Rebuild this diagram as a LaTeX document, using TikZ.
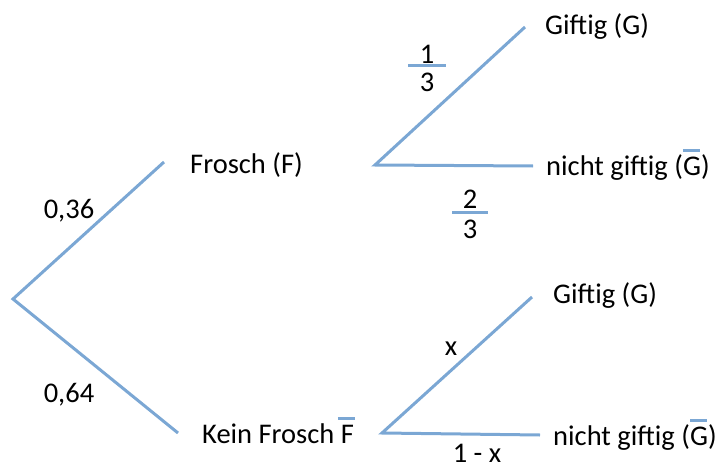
\documentclass[tikz,border=0pt]{standalone}
\usepackage{fontspec}
\setmainfont{Carlito}
\definecolor{lineblue}{HTML}{7BA7D4}
\newcommand{\myovl}[2][0pt]{\rlap{\hspace{#1}\textcolor{lineblue}{\rule[23pt]{17pt}{3pt}}}#2}
\begin{document}
\begin{tikzpicture}[x=1pt,y=-1pt,
  branch/.style={draw=lineblue,line width=3pt},
  lbl/.style={anchor=base west,inner sep=0pt,font=\fontsize{28.5}{34}\selectfont},
  num/.style={anchor=base,inner sep=0pt,font=\fontsize{28.5}{34}\selectfont}]
\useasboundingbox (0,0) rectangle (722,468);
% branch points
\coordinate (root) at (13,299);
\coordinate (fEnd) at (164,162);
\coordinate (kEnd) at (178,433);
\coordinate (u0) at (375,165);
\coordinate (uG) at (525,27);
\coordinate (uN) at (533,166);
\coordinate (l0) at (382,433);
\coordinate (lG) at (532,297);
\coordinate (lN) at (540,435);
\draw[branch] (fEnd) -- (root) -- (kEnd);
\draw[branch] (uG) -- (u0) -- (uN);
\draw[branch] (lG) -- (l0) -- (lN);
% labels
\node[lbl] (F) at (190,173) {Frosch (F)};
\node[lbl] (K) at (202,443) {Kein Frosch \myovl[-3pt]{F}};
\node[lbl] (uGt) at (545,35) {Giftig (G)};
\node[lbl] (uNt) at (546,175) {nicht giftig (\myovl{G})};
\node[lbl] (lGt) at (553,303) {Giftig (G)};
\node[lbl] (lNt) at (553,445) {nicht giftig (\myovl{G})};
\node[num] (p36) at (69,218) {0,36};
\node[num] (p64) at (69,402) {0,64};
% fractions
\node[num] (n1) at (427,64) {1};
\node[num] (d1) at (427,92) {3};
\coordinate (b1a) at (408,66);
\coordinate (b1b) at (446,66);
\draw[branch] (b1a) -- (b1b);
\node[num] (n2) at (470,208) {2};
\node[num] (d2) at (470,238) {3};
\coordinate (b2a) at (452,212);
\coordinate (b2b) at (488,212);
\draw[branch] (b2a) -- (b2b);
\node[num] (px) at (451,355) {x};
\node[num] (p1x) at (477,462) {1 - x};
\end{tikzpicture}
\end{document}
